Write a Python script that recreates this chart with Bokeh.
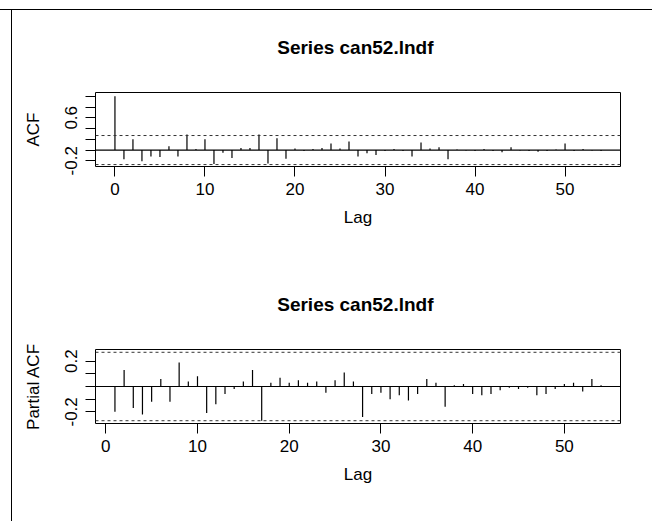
from bokeh.plotting import figure
from bokeh.models import Range1d, FixedTicker, Span, ColumnDataSource
from bokeh.layouts import column
from bokeh.embed import file_html
from bokeh.resources import INLINE

series_name = "can52.lndf"

acf_lags = list(range(0, 55))
acf_vals = [1.00, -0.17, 0.20, -0.21, -0.12, -0.13, 0.07, -0.12, 0.29, 0.02,
            0.20, -0.26, -0.05, -0.15, 0.04, 0.04, 0.29, -0.25, 0.22, -0.16,
            0.03, -0.02, 0.02, 0.04, 0.12, 0.03, 0.16, -0.12, -0.06, -0.09,
            -0.02, 0.02, -0.02, -0.12, 0.14, 0.03, 0.05, -0.17, 0.01, -0.01,
            -0.02, 0.02, -0.02, -0.04, 0.05, -0.01, -0.02, -0.03, -0.02, 0.01,
            0.12, -0.02, 0.02, -0.01, -0.02]

pacf_lags = list(range(1, 55))
pacf_vals = [-0.20, 0.13, -0.17, -0.22, -0.12, 0.06, -0.12, 0.19, 0.04,
             0.08, -0.21, -0.14, -0.06, -0.02, 0.04, 0.13, -0.27, 0.03, 0.07,
             0.03, 0.05, 0.03, 0.04, -0.05, 0.05, 0.11, 0.04, -0.24, -0.06,
             -0.05, -0.10, -0.07, -0.11, -0.06, 0.06, 0.03, -0.16, 0.01, 0.02,
             -0.06, -0.07, -0.06, -0.03, -0.01, -0.02, -0.01, -0.07, -0.06, -0.02,
             0.02, 0.03, -0.04, 0.06, 0.01]

ci = 0.27

x_ticks = [0, 10, 20, 30, 40, 50]
acf_y_labelled = [-0.2, 0.6]
acf_y_other = [0.0, 0.2, 0.4, 0.8, 1.0]
pacf_y_labelled = [-0.2, 0.2]
pacf_y_other = [-0.1, 0.0, 0.1]

FONT = "Liberation Sans"


def make_panel(lags, vals, xr, yr, ylab, ylab_ticks, y_other, height, top, bottom):
    p = figure(width=652, height=height, x_range=xr, y_range=yr,
               output_backend="svg", toolbar_location=None,
               min_border_left=95, min_border_right=32,
               min_border_top=top, min_border_bottom=bottom,
               title="Series  " + series_name)
    p.background_fill_color = "white"
    p.border_fill_color = None
    p.grid.visible = False
    p.outline_line_color = "black"
    p.outline_line_width = 1
    p.outline_line_alpha = 1.0

    p.title.align = "center"
    p.title.text_font = FONT
    p.title.text_font_size = "19px"
    p.title.text_font_style = "bold"
    p.title.text_color = "black"
    p.title.standoff = 69

    for ax in (p.xaxis[0], p.yaxis[0]):
        ax.axis_line_color = None
        ax.major_tick_in = 0
        ax.major_tick_out = 10
        ax.minor_tick_in = 0
        ax.minor_tick_out = 10
        ax.major_tick_line_color = "black"
        ax.minor_tick_line_color = "black"
        ax.major_label_text_font = FONT
        ax.major_label_text_font_size = "17px"
        ax.major_label_text_color = "black"
        ax.axis_label_text_font = FONT
        ax.axis_label_text_font_size = "17px"
        ax.axis_label_text_font_style = "normal"
        ax.axis_label_text_color = "black"

    p.xaxis.ticker = FixedTicker(ticks=x_ticks, minor_ticks=[])
    p.xaxis.major_label_standoff = 6
    p.xaxis.axis_label = "Lag"
    p.xaxis.axis_label_standoff = 10

    p.yaxis.ticker = FixedTicker(ticks=ylab_ticks, minor_ticks=y_other)
    p.yaxis.major_label_overrides = {t: ("%.1f" % t) for t in ylab_ticks}
    p.yaxis.major_label_orientation = "vertical"
    p.yaxis.major_label_standoff = 8
    p.yaxis.axis_label = ylab
    p.yaxis.axis_label_standoff = 20

    src = ColumnDataSource(data=dict(lag=lags, val=vals))
    p.segment(x0="lag", y0=0, x1="lag", y1="val", source=src,
              line_color="black", line_width=1.2)

    p.add_layout(Span(location=0, dimension="width", line_color="black", line_width=1.2))
    for c in (ci, -ci):
        p.add_layout(Span(location=c, dimension="width", line_color="#333333",
                          line_width=1, line_dash="3 3"))
    return p


p1 = make_panel(acf_lags, acf_vals, Range1d(-2.16, 56.16), Range1d(-0.306, 1.07),
                "ACF", acf_y_labelled, acf_y_other, 257, 91, 91)
p2 = make_panel(pacf_lags, pacf_vals, Range1d(-1.12, 56.12), Range1d(-0.292, 0.292),
                "Partial ACF", pacf_y_labelled, pacf_y_other, 264, 91, 98)

frame_lines = ("linear-gradient(#000,#000) 0 9px / 100% 1px no-repeat, "
               "linear-gradient(#000,#000) 11px 9px / 1px 100% no-repeat, #fff")
layout = column(p1, p2, margin=0, styles={"background": frame_lines})

open("out.html", "w").write(file_html(layout, INLINE))
